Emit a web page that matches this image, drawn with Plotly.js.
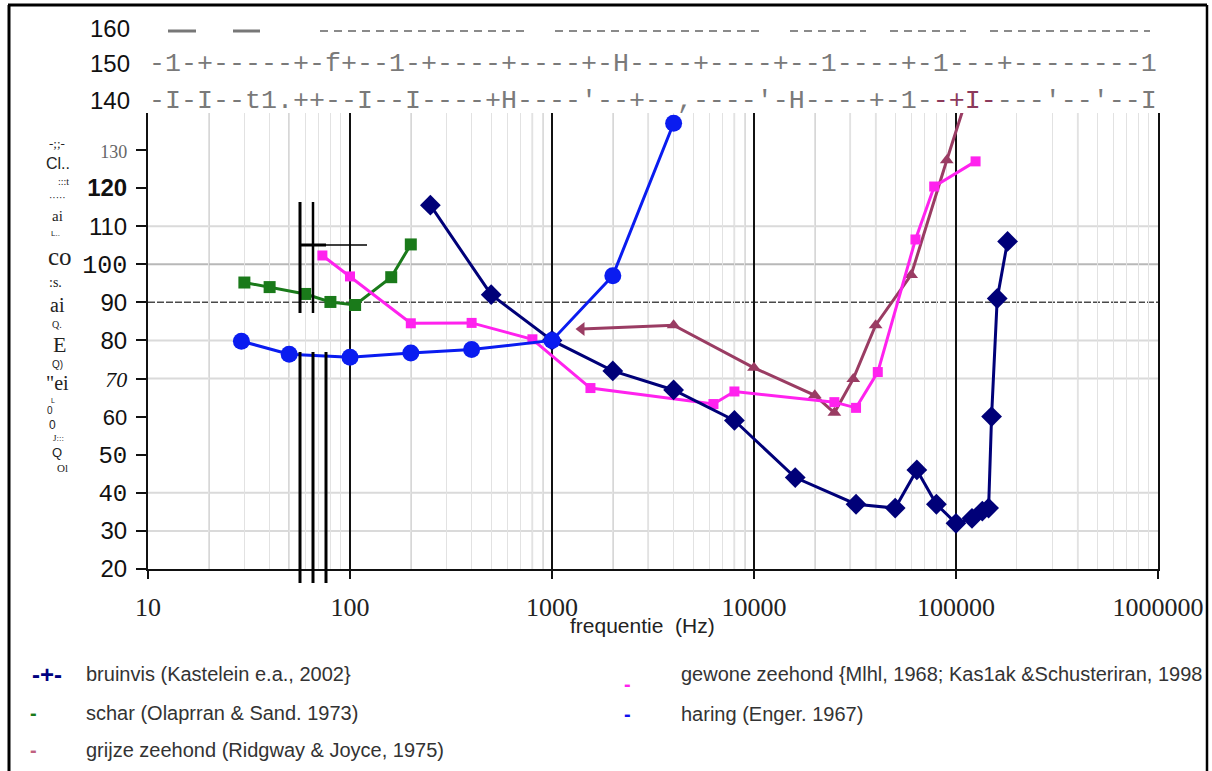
<!DOCTYPE html>
<html><head><meta charset="utf-8">
<script src="https://cdn.plot.ly/plotly-3.0.1.min.js"></script>
<style>html,body{margin:0;padding:0;background:#fff}</style>
</head><body><div id="chart" style="width:1212px;height:771px"></div>
<script>
// ---- data (frequency in Hz, threshold in dB) ----
const bruinvisFreq = [250,500,1000,2000,4000,8000,16000,32000,50000,64000,80000,100000,120000,135000,145000,150000,160000,180000];
const bruinvisDb   = [115.5,92,80,72,67,59,44,37,36,46,37,32,33.3,35.2,36,60,91,106];
const scharFreq = [30,40,60,80,106,160,200];
const scharDb   = [95.2,94,92.2,90.1,89.3,96.6,105.2];
const gewoneFreq = [73,100,200,400,800,1550,6300,8000,25000,32000,41000,63000,78000,125000];
const gewoneDb   = [102.3,96.8,84.5,84.6,80.3,67.5,63.3,66.6,63.8,62.3,71.7,106.5,120.4,127];
const grijzeFreq = [1400,4000,10000,20000,25000,31000,40000,60000,90000,120000];
const grijzeDb   = [83,84,72.8,65.6,61,69.9,84,97.2,127.3,148];
const haringFreq = [29,50,100,200,400,1000,2000,4000];
const haringDb   = [79.8,76.4,75.6,76.7,77.6,80,97,137];

const xTickVals = [10,100,1000,10000,100000,1000000];
const xTickText = ['10','100','1000','10000','100000','1000000'];
const yTickVals = [20,30,40,50,60,70,80,90,100,110,120,130];
const yTickText = [
  '20','30',
  '<span style="font-family:Liberation Mono">40</span>',
  '<span style="font-family:Liberation Mono">50</span>',
  '<span style="font-size:22px">60</span>',
  '<span style="font-family:Liberation Serif;font-style:italic;font-size:22px">70</span>',
  '80','90',
  '<span style="font-family:Liberation Mono;font-size:25px">100</span>',
  '110',
  '<b>120</b>',
  '<span style="font-family:Liberation Serif;font-size:18px;fill:#666">130</span>'
];
const midGridX = [20,50,200,800,900,2000,3000,8000,9000,20000,30000,40000,400000];
const lightGridY = [30,40,70,80,110];
const darkerGridY = [100];
const dashedGridY = [90];

const legendLeft = [
  ['-+-', '#000080', 'bruinvis (Kastelein e.a., 2002}'],
  ['-', '#1a7a1a', 'schar (Olaprran & Sand. 1973)'],
  ['-', '#c0607f', 'grijze zeehond (Ridgway & Joyce, 1975)']
];
const legendRight = [
  ['-', '#ff22ee', 'gewone zeehond {Mlhl, 1968; Kas1ak &Schusteriran, 1998'],
  ['-', '#1010ee', 'haring (Enger. 1967)']
];
const yTitleBits = [
  ['-;;-',57,143,13,'Liberation Serif'],['Cl..',58,163,16,'Liberation Sans'],[':::t',63,181,10,'Liberation Serif'],
  ['·····',57,197,10,'Liberation Sans'],['ai',57,216,15,'Liberation Serif'],['L..',55,233,8,'Liberation Sans'],
  ['co',60,256,25,'Liberation Serif'],[':s.',55,282,14,'Liberation Serif'],['ai',57,305,20,'Liberation Serif'],
  ['Q.',57,324,10,'Liberation Serif'],['E',59,344,22,'Liberation Serif'],['Q)',57,364,10,'Liberation Sans'],
  ['"ei',57,383,20,'Liberation Serif'],['L',53,400,7,'Liberation Sans'],['0',50,411,10,'Liberation Sans'],
  ['0',52,425,12,'Liberation Sans'],['J:::',58,438,9,'Liberation Serif'],['Q',57,452,13,'Liberation Sans'],
  ['Ol',62,468,11,'Liberation Serif']
];
const topRow150 = '-1-+-----+-f+--1-+----+----+-H----+----+--1----+-1---+--------1';
const topRow140a = "-I-I--t1.++--I--I----+H----'--+--,----'-H----+-1-";
const topRow140b = '-+I-';
const topRow140c = "---'--'--I";
const topLabels = ['160','150','140'];

// ---- pixel -> paper helpers (layout only) ----
const L = 148, R = 1158, T = 113, B = 569;
const X = p => (p - L) / (R - L);
const Y = p => (B - p) / (B - T);
const XL = v => (Math.log10(v) - 1) / 5;

function trace(x, y, color, symbol, size) {
  return {x, y, type:'scatter', mode:'lines+markers', showlegend:false,
    line:{color, width:3}, marker:{color, symbol, size}};
}
const grijze = trace(grijzeFreq, grijzeDb, '#9a3c63', 'triangle-up', 12);
grijze.marker.symbol = grijzeFreq.map((f,i) => i === 0 ? 'triangle-left' : 'triangle-up');
const data = [
  trace(scharFreq, scharDb, '#1a7a1a', 'square', 12),
  grijze,
  trace(gewoneFreq, gewoneDb, '#ff22ee', 'square', 10),
  trace(bruinvisFreq, bruinvisDb, '#000078', 'diamond', 16),
  trace(haringFreq, haringDb, '#0a1cf0', 'circle', 17)
];

const shapes = [];
midGridX.forEach(v => shapes.push({type:'line', xref:'paper', yref:'paper', x0:XL(v), x1:XL(v), y0:0, y1:1,
  line:{color:'#a8a8a8', width:1.3}, layer:'below'}));
lightGridY.forEach(v => shapes.push({type:'line', xref:'paper', yref:'y', x0:0, x1:1, y0:v, y1:v,
  line:{color:'#dadada', width:2}, layer:'below'}));
darkerGridY.forEach(v => shapes.push({type:'line', xref:'paper', yref:'y', x0:0, x1:1, y0:v, y1:v,
  line:{color:'#b8b8b8', width:2}, layer:'below'}));
dashedGridY.forEach(v => shapes.push({type:'line', xref:'paper', yref:'y', x0:0, x1:1, y0:v, y1:v,
  line:{color:'#4a4a4a', width:1.5, dash:'7px,2px'}, layer:'below'}));

// scan artifacts: black bars near 60-80 Hz
const seg = (x0,y0,x1,y1,w,c) => shapes.push({type:'line', xref:'paper', yref:'paper',
  x0:X(x0), y0:Y(y0), x1:X(x1), y1:Y(y1), line:{color:c||'#000', width:w}, layer:'above'});
seg(300,202,300,313,3); seg(313,202,313,313,2.5);
seg(300,245,367,245,1.3); seg(300,245,326,245,3);
seg(300,352,300,583,3); seg(313,352,313,583,3); seg(326,352,326,583,3);
// figure frame
seg(8,5,1207,5,3); seg(9,5,9,771,3); seg(1207,5,1207,771,2.5);
// 160 row dashes
seg(168,31,196,31,3,'#777'); seg(233,31,260,31,3,'#777');
[[320,527],[555,762],[790,866],[890,966],[990,1150]].forEach(([a,b]) =>
  shapes.push({type:'line', xref:'paper', yref:'paper', x0:X(a), x1:X(b), y0:Y(31), y1:Y(31),
    line:{color:'#8a8a8a', width:2, dash:'8px,6px'}}));

const annotations = [];
const ann = (text, x, y, size, family, color, xanchor, extra) => annotations.push(Object.assign({
  text, xref:'paper', yref:'paper', x:X(x), y:Y(y), showarrow:false, xanchor:xanchor||'left', yanchor:'middle',
  borderpad:0, font:{size, family, color}}, extra||{}));

topLabels.forEach((t,i) => ann(t, 131, [28,63,100][i], 24, 'Liberation Sans', '#111', 'right'));
ann(topRow150, 148, 64, 26.67, 'Liberation Mono', '#7a7a7a');
ann(topRow140a + '<span style="fill:#8c3a5c">' + topRow140b + '</span>' + topRow140c, 148, 101, 26.67, 'Liberation Mono', '#7a7a7a');

yTitleBits.forEach(b => ann(b[0], b[1], b[2], b[3], b[4], '#222', 'center'));
ann('frequentie  (Hz)', 642, 625, 21, 'Liberation Sans', '#222', 'center');

legendLeft.forEach((r,i) => {
  const y = [674,713,750][i];
  ann('<b>' + r[0] + '</b>', i === 0 ? 47 : 33, y, i === 0 ? 24 : 20, 'Liberation Sans', r[1], 'center');
  ann(r[2], 85, y, 20, 'Liberation Sans', '#333');
});
legendRight.forEach((r,i) => {
  ann('<b>' + r[0] + '</b>', 627, [684,714][i], 20, 'Liberation Sans', r[1], 'center');
  ann(r[2], 680, [674,714][i], 20, 'Liberation Sans', '#333');
});

const layout = {
  width:1212, height:771,
  margin:{l:L, r:1212-R, t:T, b:771-B, pad:0},
  paper_bgcolor:'#fff', plot_bgcolor:'#fff',
  showlegend:false,
  xaxis:{type:'log', range:[1,6], tickvals:xTickVals, ticktext:xTickText,
    ticks:'outside', ticklen:8, tickwidth:2, tickcolor:'#111',
    showline:true, linecolor:'#111', linewidth:2,
    showgrid:true, gridcolor:'#111', gridwidth:1.6, zeroline:false,
    minor:{dtick:'D1', showgrid:true, gridcolor:'#e2e2e2', gridwidth:1, ticks:''},
    tickfont:{family:'Liberation Serif', size:26, color:'#222'}, ticklabelstandoff:6},
  yaxis:{range:[20,139.7], tickvals:yTickVals, ticktext:yTickText,
    ticks:'outside', ticklen:10, tickwidth:2, tickcolor:'#111',
    showline:true, linecolor:'#111', linewidth:2, mirror:true,
    showgrid:false, zeroline:false,
    tickfont:{family:'Liberation Sans', size:24, color:'#111'}, ticklabelstandoff:4},
  shapes, annotations
};
Plotly.newPlot('chart', data, layout, {displayModeBar:false, staticPlot:true});
</script></body></html>
